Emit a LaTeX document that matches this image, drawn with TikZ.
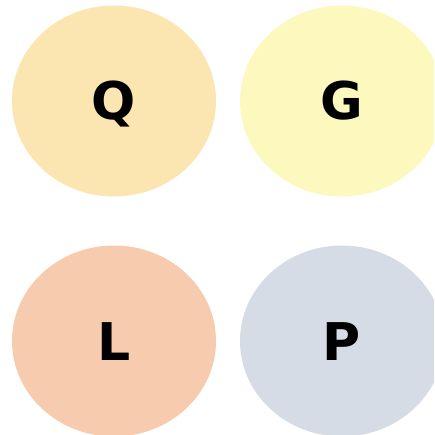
\documentclass[tikz,border=0pt]{standalone}
\usepackage{fontspec}
\setmainfont{DejaVu Sans}
\usetikzlibrary{shapes.geometric}
\definecolor{cq}{HTML}{FBE5B0}
\definecolor{cg}{HTML}{FDF8BE}
\definecolor{cl}{HTML}{F7CBAD}
\definecolor{cp}{HTML}{D6DCE5}
\begin{document}
\begin{tikzpicture}[x=1pt,y=-1pt,
  blob/.style={ellipse, draw=none, inner sep=0pt, minimum width=204pt, minimum height=191pt,
    font=\fontsize{52}{52}\selectfont\bfseries, text height=38pt, text depth=0pt}]
\useasboundingbox (0,0) rectangle (434,435);
\clip (0,0) rectangle (434,435);
\fill[white] (0,0) rectangle (434,435);
\node[blob, fill=cq] (q) at (114,101) {Q};
\node[blob, fill=cg] (g) at (342,101) {G};
\node[blob, fill=cl] (l) at (114,341) {L};
\node[blob, fill=cp] (p) at (342,341) {P};
\end{tikzpicture}
\end{document}
